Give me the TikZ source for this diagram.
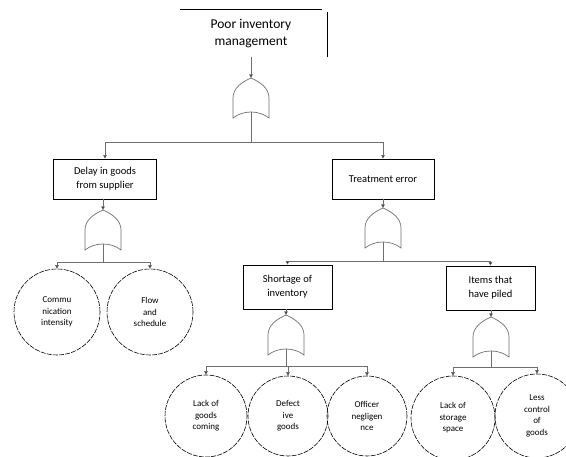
\documentclass[tikz,border=0pt]{standalone}
\usepackage{fontspec}
\setmainfont{Carlito}
\usepackage{tikz}
\usetikzlibrary{arrows.meta,positioning,calc}
\definecolor{linkgray}{RGB}{110,110,110}

\begin{document}
\begin{tikzpicture}[
    x=1pt, y=-1pt,
    evt/.style={draw, line width=0.8pt, minimum width=89pt, minimum height=44pt, align=center, font=\fontsize{10.5}{14}\selectfont},
    basic/.style={circle, draw, line width=0.6pt, dash pattern=on 5pt off 1.2pt, align=center, inner sep=0pt, font=\fontsize{9}{11.5}\selectfont},
    lnk/.style={draw=linkgray, line width=0.6pt, -{Triangle[length=3.5pt,width=3.5pt,fill=black]}},
    gate/.style={draw=linkgray, line width=0.7pt},
    orgate/.pic={
        \draw[gate] (0,0) .. controls (-9,4) and (-18,10) .. (-18,20) -- (-18,40)
            .. controls (-8,32) and (8,32) .. (18,40) -- (18,20)
            .. controls (18,10) and (9,4) .. cycle;
        \coordinate (-top) at (0,0);
        \coordinate (-bot) at (0,34);
    }
]
\useasboundingbox (0,0) rectangle (566,457);
\clip (0,0) rectangle (566,457);

% top event
\node[minimum width=142pt, minimum height=47pt, align=center, font=\fontsize{13.5}{17}\selectfont] (top) at (251,33.5) {Poor inventory\\management};
\draw[line width=0.8pt] (top.north west) -- (top.north east);
\draw[line width=0.8pt] ([xshift=5pt,yshift=-2pt]top.north east) -- ([xshift=5pt]top.south east);
\pic (g0) at (251,78) {orgate};
\draw[lnk] (top.south) -- (g0-top);

% intermediate events
\node[evt, minimum width=103pt, minimum height=40pt] (delay) at (105,179) {Delay in goods\\from supplier};
\node[evt, minimum width=102pt, minimum height=40pt] (treat) at (383,179) {Treatment error};
\draw[lnk] (g0-bot) -- ++(0,30) -| (delay.north);
\draw[lnk] (g0-bot) -- ++(0,30) -| (treat.north);

% delay branch
\pic (g1) at (103,210) {orgate};
\draw[lnk] (delay.south -| g1-top) -- (g1-top);
\node[basic, minimum size=86pt] (comm) at (57,312) {Commu\\nication\\intensity};
\node[basic, minimum size=86pt] (flow) at (150,312) {Flow\\and\\schedule};
\draw[lnk] (g1-bot) -- ++(0,18) -| (comm.north);
\draw[lnk] (g1-bot) -- ++(0,18) -| (flow.north);

% treatment branch
\pic (g2) at (383,208) {orgate};
\draw[lnk] (treat.south) -- (g2-top);
\node[evt] (short) at (287.5,287) {Shortage of\\inventory};
\node[evt] (items) at (490.5,288) {Items that\\have piled};
\draw[lnk] (g2-bot) -- ++(0,19) -| (short.north);
\draw[lnk] (g2-bot) -- ++(0,19) -| (items.north);

% shortage branch
\pic (g3) at (286,315) {orgate};
\draw[lnk] (short.south -| g3-top) -- (g3-top);
\node[basic, minimum size=82pt] (lack) at (206,416) {Lack of\\goods\\coming};
\node[basic, minimum size=80pt] (defect) at (288,416) {Defect\\ive\\goods};
\node[basic, minimum size=80pt] (officer) at (367,416) {Officer\\negligen\\nce};
\draw[lnk] (g3-bot) -- ++(0,17) -| (lack.north);
\draw[lnk] (g3-bot) -- ++(0,17) -| (defect.north);
\draw[lnk] (g3-bot) -- ++(0,17) -| (officer.north);

% piled items branch
\pic (g4) at (491,317) {orgate};
\draw[lnk] (items.south -| g4-top) -- (g4-top);
\node[basic, minimum size=84pt] (storage) at (453,418) {Lack of\\storage\\space};
\node[basic, minimum size=84pt] (control) at (537,416) {Less\\control\\of\\goods};
\draw[lnk] (g4-bot) -- ++(0,16) -| (storage.north);
\draw[lnk] (g4-bot) -- ++(0,16) -| (control.north);

\end{tikzpicture}
\end{document}
